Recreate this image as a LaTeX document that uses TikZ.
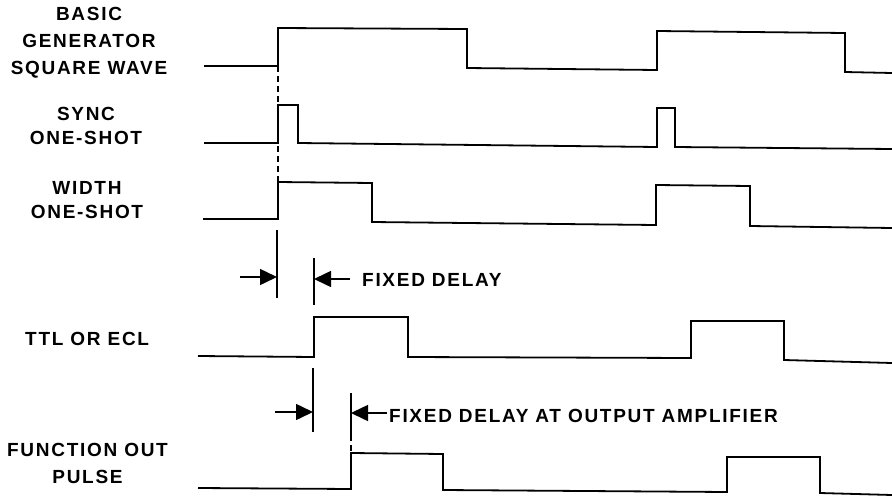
\documentclass[tikz,border=0pt]{standalone}
\usepackage{fontspec}
\setmainfont{Liberation Sans}[LetterSpace=9, BoldFont={Liberation Sans Bold}]
\usetikzlibrary{arrows.meta}
\tikzset{
	wave/.style={line width=1.8pt, line join=miter},
	extline/.style={line width=1.5pt},
	dashline/.style={line width=1.5pt, dash pattern=on 6pt off 4pt},
	dimarrow/.style={line width=1.5pt, -{Triangle[length=17pt,width=16pt]}},
	lbl/.style={font=\fontsize{19}{24}\selectfont\bfseries, align=center, inner sep=0pt},
}
\begin{document}
\begin{tikzpicture}[x=1pt,y=-1pt]
	\useasboundingbox (0,0) rectangle (892,498);
	% signal names
	\node[lbl] (basic) at (89,43) {BASIC\\[3pt]GENERATOR\\[3pt]SQUARE WAVE};
	\node[lbl] (sync) at (86,126) {SYNC\\ONE-SHOT};
	\node[lbl] (width) at (87,200) {WIDTH\\ONE-SHOT};
	\node[lbl, anchor=west] (ttl) at (25,339) {TTL OR ECL};
	\node[lbl] (func) at (87.5,463) {FUNCTION OUT\\[3pt]PULSE};
	% waveforms
	\draw[wave] (204,66) -- (278,66) -- (278,28) -- (467,29) -- (467,68) -- (657,70) -- (657,31) -- (845,33) -- (845,72) -- (892,73);
	\draw[wave] (204,143) -- (278,143) -- (278,105) -- (298,105) -- (298,143) -- (657,147) -- (657,108) -- (675,108) -- (675,147) -- (892,149);
	\draw[wave] (203,219) -- (278,219) -- (278,182) -- (372,183) -- (372,222) -- (656,225) -- (656,185) -- (750,186) -- (750,226) -- (892,228);
	\draw[wave] (198,356) -- (314,357) -- (314,317) -- (408,317) -- (408,357) -- (691,358) -- (691,321) -- (784,321) -- (784,360) -- (892,363);
	\draw[wave] (198,488) -- (351,489) -- (351,453) -- (443,454) -- (443,490) -- (727,492) -- (727,457) -- (820,457) -- (820,493) -- (892,495);
	% extension lines
	\coordinate (syncedge) at (278,66);
	\coordinate (syncfoot) at (278,219);
	\coordinate (ext1top) at (277,230);
	\coordinate (ext1bot) at (277,298);
	\coordinate (ext2top) at (314,258);
	\coordinate (ext2bot) at (314,305);
	\coordinate (ext3top) at (313,368);
	\coordinate (ext3bot) at (313,432);
	\coordinate (ext4top) at (351,393);
	\coordinate (ext4bot) at (351,435);
	\coordinate (funcedge) at (351,453);
	\draw[dashline] (syncedge) -- (syncfoot);
	\draw[extline] (ext1top) -- (ext1bot);
	\draw[extline] (ext2top) -- (ext2bot);
	\draw[extline] (ext3top) -- (ext3bot);
	\draw[extline] (ext4top) -- (ext4bot);
	\draw[dashline] (ext4bot) -- (funcedge);
	% delay arrows
	\coordinate (d1tail) at (240,277);
	\coordinate (d1tip) at (277,277);
	\coordinate (d2tail) at (350,279);
	\coordinate (d2tip) at (314,279);
	\coordinate (d3tail) at (275,412);
	\coordinate (d3tip) at (313,412);
	\coordinate (d4tail) at (387,413);
	\coordinate (d4tip) at (351,413);
	\draw[dimarrow] (d1tail) -- (d1tip);
	\draw[dimarrow] (d2tail) -- (d2tip);
	\draw[dimarrow] (d3tail) -- (d3tip);
	\draw[dimarrow] (d4tail) -- (d4tip);
	\node[lbl, anchor=west] (delay) at (362,280) {FIXED DELAY};
	\node[lbl, anchor=west] (delayamp) at (389,416) {FIXED DELAY AT OUTPUT AMPLIFIER};
\end{tikzpicture}
\end{document}
